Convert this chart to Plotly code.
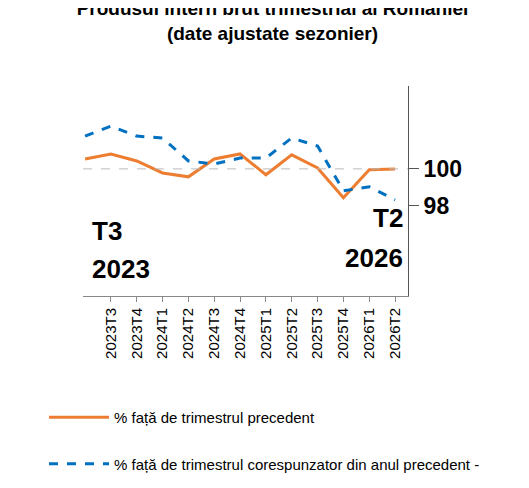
import plotly.graph_objects as go

quarters = ["2023T2", "2023T3", "2023T4", "2024T1", "2024T2", "2024T3", "2024T4",
            "2025T1", "2025T2", "2025T3", "2025T4", "2026T1", "2026T2"]
qoq = [100.54, 100.81, 100.43, 99.78, 99.57, 100.54, 100.81, 99.68, 100.76, 100.05, 98.43, 99.95, 100.0]
yoy = [101.78, 102.32, 101.78, 101.68, 100.43, 100.27, 100.59, 100.59, 101.68, 101.24, 98.81, 99.03, 98.32]

ORANGE = "#ED7D31"
BLUE = "#0070C0"
x = list(range(len(quarters)))

fig = go.Figure()
fig.add_trace(go.Scatter(
    x=x, y=qoq, mode="lines", name="% față de trimestrul precedent",
    line=dict(color=ORANGE, width=3), legendgroup="a",
))
fig.add_trace(go.Scatter(
    x=x, y=yoy, mode="lines", name="% față de trimestrul corespunzator din anul precedent -",
    line=dict(color=BLUE, width=3, dash="dash"), legendgroup="b",
))
fig.add_hline(y=100, line=dict(color="#BBBBBB", width=1, dash="dash"))

big = dict(family="Liberation Sans, Arial", size=26, color="black")
fig.add_annotation(text="<b>T3</b>", x=0.02, y=0.31, xref="paper", yref="paper",
                   xanchor="left", yanchor="middle", showarrow=False, font=big)
fig.add_annotation(text="<b>2023</b>", x=0.02, y=0.13, xref="paper", yref="paper",
                   xanchor="left", yanchor="middle", showarrow=False, font=big)
fig.add_annotation(text="<b>T2</b>", x=0.99, y=0.37, xref="paper", yref="paper",
                   xanchor="right", yanchor="middle", showarrow=False, font=big)
fig.add_annotation(text="<b>2026</b>", x=0.99, y=0.18, xref="paper", yref="paper",
                   xanchor="right", yanchor="middle", showarrow=False, font=big)

fig.update_layout(
    width=529, height=488,
    margin=dict(l=75, r=129, t=78, b=200),
    plot_bgcolor="white", paper_bgcolor="white",
    font=dict(family="Liberation Sans, Arial", color="black"),
    title=dict(text="<b>Produsul intern brut trimestrial al României<br>(date ajustate sezonier)</b>",
               x=0.5, xanchor="center", y=0.985, yanchor="top",
               font=dict(size=19)),
    legend=dict(x=-0.12, xanchor="left", y=-0.5, yanchor="top",
                font=dict(size=15), tracegroupgap=24, itemwidth=60,
                traceorder="grouped"),
)
fig.update_xaxes(
    range=[-0.08, 12.5], tickvals=x[1:], ticktext=quarters[1:], tickangle=-90,
    ticks="outside", ticklen=5, tickcolor="#888", showgrid=False,
    showline=True, linecolor="#888", tickfont=dict(size=15), zeroline=False,
)
fig.update_yaxes(
    range=[93.1, 104.5], side="right", tickvals=[100, 98], ticktext=["<b>100</b>", "<b>98</b>"],
    ticks="outside", ticklen=10, tickcolor="#555", showgrid=False,
    showline=True, linecolor="#555", tickfont=dict(size=23), zeroline=False,
)

fig.write_html("out.html")
